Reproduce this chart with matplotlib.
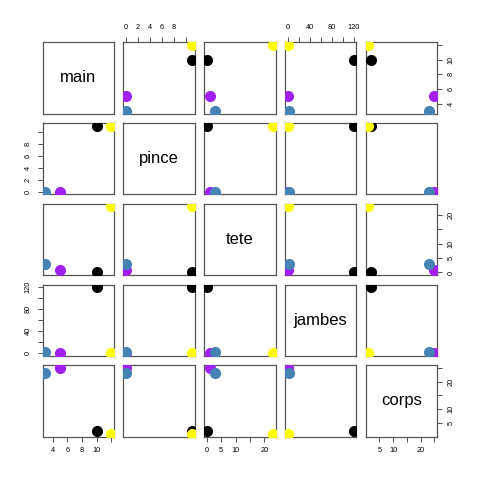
import numpy as np
import matplotlib
matplotlib.use("Agg")
import matplotlib.pyplot as plt

plt.rcParams['font.family'] = ['Liberation Sans', 'DejaVu Sans']

# one row per point, drawn in this order
colors = ["black", "yellow", "#A020F0", "#4682B4"]
names = ["main", "pince", "tete", "jambes", "corps"]
main = [10, 12, 5, 3]
pince = [11, 11, 0, 0]
tete = [0, 23, 1, 3]
jambes = [120, 1, 0, 2]
corps = [2, 1, 25, 23]
data = [main, pince, tete, jambes, corps]

# ticks and the labels R kept (others dropped for overlap)
ticks = [
  [4, 6, 8, 10, 12],
  [0, 2, 4, 6, 8, 10],
  [0, 5, 10, 15, 20],
  [0, 20, 40, 60, 80, 100, 120],
  [5, 10, 15, 20, 25],
]
tick_labels = [
  ["4", "6", "8", "10", ""],
  ["0", "2", "4", "6", "8", ""],
  ["0", "5", "10", "", "20"],
  ["0", "", "40", "", "80", "", "120"],
  ["5", "10", "", "20", ""],
]

W = 480
fig = plt.figure(figsize=(4.8, 4.8), dpi=100)

n = len(names)
left0, top0, step, size = 42.7, 42.3, 80.75, 71.3


def lims(v):
  lo, hi = min(v), max(v)
  pad = (hi - lo) * 0.04
  return lo - pad, hi + pad


for r in range(n):
  for c in range(n):
    x0 = (left0 + c * step) / W
    y0 = 1 - (top0 + r * step + size) / W
    ax = fig.add_axes([x0, y0, size / W, size / W])
    for s in ax.spines.values():
      s.set_color("#555555")
      s.set_linewidth(0.9)
    ax.set_xticks([])
    ax.set_yticks([])
    if r == c:
      ax.text(0.5, 0.5, names[r], transform=ax.transAxes, ha="center", va="center", fontsize=12)
    else:
      for i in range(len(colors)):
        ax.scatter(data[c][i], data[r][i], s=64, color=colors[i], zorder=3, linewidths=0)

    tp = dict(direction="out", length=3.5, width=0.6, labelsize=5.3, pad=4.3, color="#333333")
    # x axes: top for even columns, bottom for odd columns
    if r == 0 and c % 2 == 1:
      ax.set_xticks(ticks[c], tick_labels[c])
      ax.xaxis.tick_top()
      ax.tick_params(axis="x", **tp)
    if r == n - 1 and c % 2 == 0:
      ax.set_xticks(ticks[c], tick_labels[c])
      ax.tick_params(axis="x", **tp)
    # y axes: left for even rows, right for odd rows
    if c == 0 and r % 2 == 1:
      ax.set_yticks(ticks[r], tick_labels[r], rotation=90, va="center")
      ax.tick_params(axis="y", **tp)
    if c == n - 1 and r % 2 == 0:
      ax.set_yticks(ticks[r], tick_labels[r], rotation=90, va="center")
      ax.yaxis.tick_right()
      ax.tick_params(axis="y", **tp)
    ax.set_xlim(*lims(data[c]))
    ax.set_ylim(*lims(data[r]))

fig.savefig("out.png", dpi=100)
